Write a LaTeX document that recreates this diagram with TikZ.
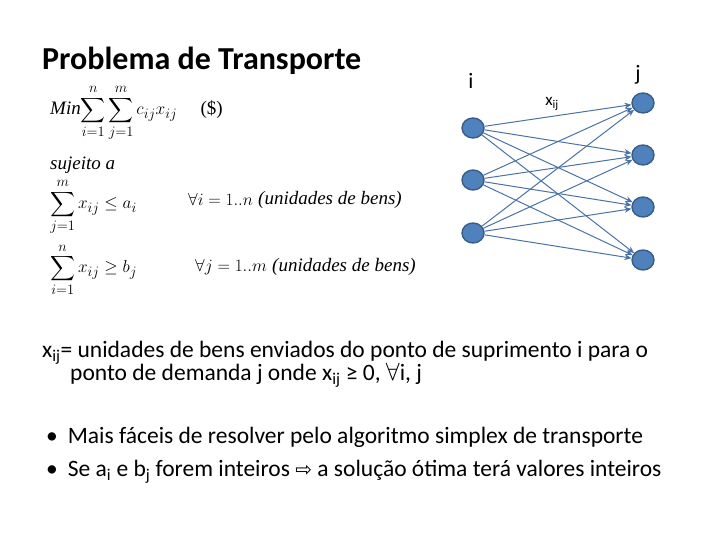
\documentclass[tikz,border=0pt]{standalone}
\usepackage{amsmath}
\usepackage{fontspec}
\setmainfont{Carlito}
\newfontfamily\tnr{Liberation Serif}
\tikzset{
  vtx/.style={draw={rgb,255:red,56;green,93;blue,138},fill={rgb,255:red,79;green,129;blue,189},line width=1.4pt,minimum width=22pt,minimum height=20pt,inner sep=0pt,ellipse},
  edge/.style={draw={rgb,255:red,74;green,114;blue,166},line width=1pt,-{Stealth[length=7pt,width=6pt]}},
  txt/.style={anchor=west,inner sep=0pt,font=\fontsize{23.5}{26}\selectfont},
  frm/.style={anchor=west,inner sep=0pt,font=\fontsize{19}{22}\selectfont}
}
\usetikzlibrary{arrows.meta,shapes.geometric}
\begin{document}
\begin{tikzpicture}[x=1pt,y=-1pt]
\useasboundingbox (0,0) rectangle (720,540);
\node[anchor=west,inner sep=0pt,font=\fontsize{32}{35}\selectfont\bfseries] (title) at (42,61) {Problema de Transporte};
\node[frm] (f1) at (50,113) {{\tnr\itshape Min}$\displaystyle\sum_{i=1}^{n}\sum_{j=1}^{m} c_{ij}x_{ij}\quad$ {\tnr(\$)}};
\node[frm] (f2) at (50,165) {{\tnr\itshape sujeito a}};
\node[frm] (f3) at (50,207) {$\displaystyle\sum_{j=1}^{m} x_{ij}\le a_i$};
\node[frm] (f3b) at (188,200) {$\forall i=1..n$};
\node[frm] (f3c) at (258,200) {{\tnr\itshape (unidades de bens)}};
\node[frm] (f4) at (50,270) {$\displaystyle\sum_{i=1}^{n} x_{ij}\ge b_j$};
\node[frm] (f4b) at (195,267) {$\forall j=1..m$};
\node[frm] (f4c) at (272,267) {{\tnr\itshape (unidades de bens)}};

\node[font=\fontsize{22}{24}\selectfont] (li) at (471,81) {i};
\node[font=\fontsize{22}{24}\selectfont] (lj) at (638,75) {j};
\node[font=\fontsize{17}{19}\selectfont] (lx) at (552,104) {x\textsubscript{ij}};
\foreach \n/\y in {1/128,2/180,3/233} \node[vtx] (l\n) at (473,\y) {};
\foreach \n/\y in {1/103,2/155,3/207,4/260} \node[vtx] (r\n) at (643,\y) {};
\foreach \a in {1,2,3} \foreach \b in {1,2,3,4} \draw[edge] (l\a) -- (r\b);

\node[txt] (t1) at (42,353) {x\textsubscript{ij}= unidades de bens enviados do ponto de suprimento i para o};
\node[txt] (t2) at (70,375) {ponto de demanda j onde x\textsubscript{ij} ≥ 0, $\forall$i, j};
\node[txt] (b1) at (46,437) {•\hspace{10pt}Mais fáceis de resolver pelo algoritmo simplex de transporte};
\node[txt] (b2) at (46,472) {•\hspace{10pt}Se a\textsubscript{i} e b\textsubscript{j} forem inteiros {\fontspec{DejaVu Sans}\fontsize{20}{22}\selectfont ⇨} a solução ótima terá valores inteiros};
\end{tikzpicture}
\end{document}
